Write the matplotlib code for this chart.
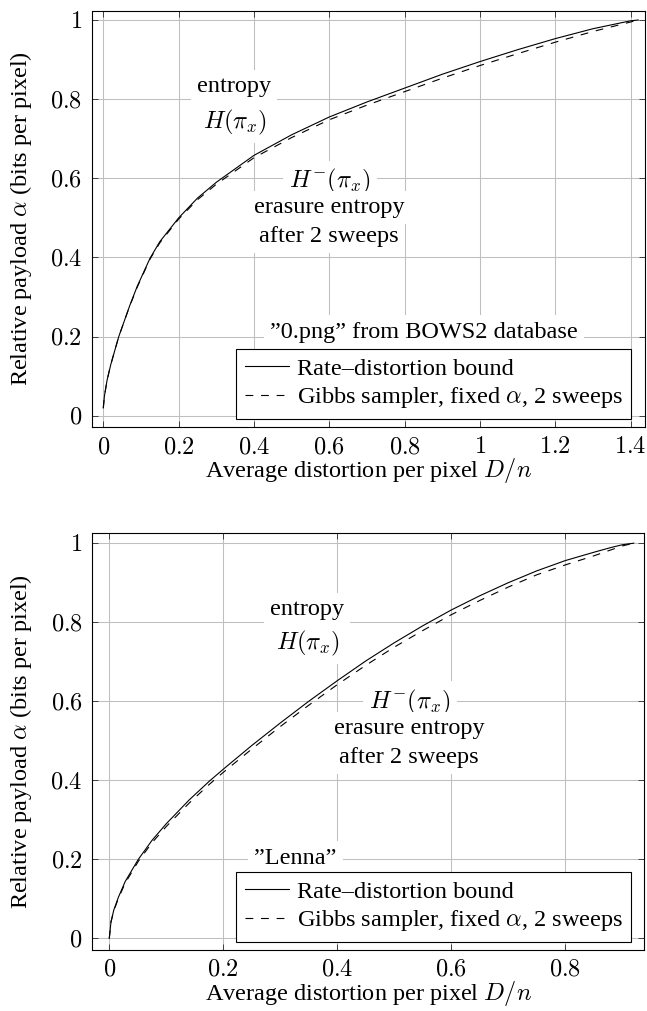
import matplotlib
matplotlib.use('Agg')
import matplotlib.pyplot as plt
from matplotlib.ticker import FixedLocator, FixedFormatter

plt.rcParams['font.family'] = ['Liberation Serif', 'DejaVu Serif']
plt.rcParams['mathtext.fontset'] = 'cm'
plt.rcParams['font.size'] = 17.5
plt.rcParams['lines.scale_dashes'] = False

# ---------------- data ----------------
# Top panel: "0.png" from BOWS2 database
top_rd_x = [0, 0.003, 0.01, 0.02, 0.041, 0.07, 0.09, 0.124, 0.15, 0.2, 0.25, 0.3, 0.4, 0.5,
            0.6, 0.7, 0.8, 0.9, 1.0, 1.1, 1.2, 1.3, 1.4, 1.42]
top_rd_y = [0.02, 0.05, 0.09, 0.13, 0.2, 0.278, 0.327, 0.398, 0.44, 0.5, 0.55, 0.59, 0.658, 0.71,
            0.755, 0.793, 0.828, 0.863, 0.895, 0.925, 0.953, 0.978, 0.998, 1.0]
top_gibbs_x = [0, 0.003, 0.01, 0.02, 0.041, 0.07, 0.09, 0.124, 0.15, 0.2, 0.25, 0.3, 0.4, 0.5,
               0.6, 0.7, 0.8, 0.9, 1.0, 1.1, 1.2, 1.3, 1.4, 1.42]
top_gibbs_y = [0.02, 0.05, 0.09, 0.13, 0.2, 0.277, 0.325, 0.396, 0.437, 0.497, 0.546, 0.585, 0.652, 0.703,
               0.748, 0.785, 0.819, 0.853, 0.885, 0.915, 0.944, 0.971, 0.995, 1.0]

# Bottom panel: "Lenna"
bot_rd_x = [0, 0.003, 0.008, 0.016, 0.028, 0.051, 0.075, 0.1, 0.14, 0.175, 0.2, 0.25, 0.3, 0.35,
            0.4, 0.45, 0.5, 0.55, 0.6, 0.65, 0.7, 0.75, 0.8, 0.85, 0.88, 0.9, 0.92]
bot_rd_y = [0, 0.042, 0.072, 0.104, 0.144, 0.2, 0.248, 0.29, 0.35, 0.397, 0.428, 0.488, 0.545, 0.6,
            0.652, 0.702, 0.748, 0.791, 0.831, 0.867, 0.9, 0.93, 0.956, 0.977, 0.989, 0.996, 1.0]
bot_gibbs_x = [0, 0.003, 0.008, 0.016, 0.028, 0.051, 0.075, 0.1, 0.14, 0.175, 0.2, 0.25, 0.3, 0.35,
               0.4, 0.45, 0.5, 0.55, 0.6, 0.65, 0.7, 0.75, 0.8, 0.85, 0.88, 0.9, 0.92]
bot_gibbs_y = [0, 0.041, 0.07, 0.101, 0.14, 0.195, 0.242, 0.283, 0.342, 0.389, 0.42, 0.479, 0.536, 0.59,
               0.642, 0.691, 0.737, 0.779, 0.819, 0.855, 0.889, 0.92, 0.945, 0.968, 0.983, 0.993, 1.0]

top_xticks = [0, 0.2, 0.4, 0.6, 0.8, 1.0, 1.2, 1.4]
top_xticklabels = ['0', '0.2', '0.4', '0.6', '0.8', '1', '1.2', '1.4']
bot_xticks = [0, 0.2, 0.4, 0.6, 0.8]
bot_xticklabels = ['0', '0.2', '0.4', '0.6', '0.8']
yticks = [0, 0.2, 0.4, 0.6, 0.8, 1.0]
yticklabels = ['0', '0.2', '0.4', '0.6', '0.8', '1']

series_labels = ['Rate–distortion bound', r'Gibbs sampler, fixed $\alpha$, 2 sweeps']
xlabel = r'Average distortion per pixel $D/n$'
ylabel = r'Relative payload $\alpha$ (bits per pixel)'

W, H = 647, 1011
fig = plt.figure(figsize=(W / 100, H / 100), dpi=100)

GRID = '#bfbfbf'
BOX = dict(facecolor='white', edgecolor='none', pad=4.5)
DASH = (5.6, 5.6)


def style_axes(ax, xticks, xticklabels, xlim, ylim):
    ax.set_xlim(*xlim)
    ax.set_ylim(*ylim)
    ax.xaxis.set_major_locator(FixedLocator(xticks))
    ax.xaxis.set_major_formatter(FixedFormatter(['$%s$' % t for t in xticklabels]))
    ax.yaxis.set_major_locator(FixedLocator(yticks))
    ax.yaxis.set_major_formatter(FixedFormatter(['$%s$' % t for t in yticklabels]))
    ax.tick_params(direction='in', length=4.5, width=0.7, color='#404040',
                   top=True, right=True, labelsize=17.5)
    ax.tick_params(axis='x', pad=7)
    ax.tick_params(axis='y', pad=7)
    ax.grid(True, color=GRID, linewidth=0.75)
    ax.set_axisbelow(True)
    for s in ax.spines.values():
        s.set_linewidth(0.8)
        s.set_color('black')
    ax.set_xlabel(xlabel)
    ax.set_ylabel(ylabel)
    ax.yaxis.set_label_coords(-0.105, 0.5)
    ax.xaxis.set_label_coords(0.5, -0.069)


def add_legend(ax, anchor):
    leg = ax.legend(loc='upper left', bbox_to_anchor=anchor, borderaxespad=0,
                    handlelength=1.85, handletextpad=0.3, borderpad=0.35,
                    labelspacing=0.22, fancybox=False, framealpha=1,
                    edgecolor='black', fontsize=17.5)
    leg.get_frame().set_linewidth(0.8)
    return leg


# ---------------- top panel ----------------
ax1 = fig.add_axes([92 / W, 1 - 427.3 / H, 553 / W, 416.6 / H])
ax1.plot(top_rd_x, top_rd_y, color='black', lw=0.8, label=series_labels[0])
ax1.plot(top_gibbs_x, top_gibbs_y, color='black', lw=0.8, dashes=DASH,
         label=series_labels[1])
style_axes(ax1, top_xticks, top_xticklabels, (-0.030, 1.438), (-0.029, 1.0235))
add_legend(ax1, (0.2604, 0.1872))
ax1.text(0.851, 0.211, '”0.png” from BOWS2 database', ha='center', va='center', bbox=BOX)
ax1.text(0.347, 0.832, 'entropy', ha='center', va='center', bbox=BOX)
ax1.text(0.350, 0.742, r'$H(\pi_x)$', ha='center', va='center', bbox=BOX)
ax1.text(0.602, 0.592, r'$H^{-}(\pi_x)$', ha='center', va='center', bbox=BOX)
ax1.text(0.599, 0.526, 'erasure entropy', ha='center', va='center', bbox=BOX)
ax1.text(0.599, 0.454, 'after 2 sweeps', ha='center', va='center', bbox=BOX)

# ---------------- bottom panel ----------------
ax2 = fig.add_axes([92.3 / W, 1 - 950 / H, 551.7 / W, 416.7 / H])
ax2.plot(bot_rd_x, bot_rd_y, color='black', lw=0.8, label=series_labels[0])
ax2.plot(bot_gibbs_x, bot_gibbs_y, color='black', lw=0.8, dashes=DASH,
         label=series_labels[1])
style_axes(ax2, bot_xticks, bot_xticklabels, (-0.0298, 0.938), (-0.0296, 1.025))
add_legend(ax2, ((236 - 92.3) / 551.7, 1 - (872.3 - 533.3) / 416.7))
ax2.text(0.326, 0.2025, '”Lenna”', ha='center', va='center', bbox=BOX)
ax2.text(0.347, 0.832, 'entropy', ha='center', va='center', bbox=BOX)
ax2.text(0.349, 0.747, r'$H(\pi_x)$', ha='center', va='center', bbox=BOX)
ax2.text(0.5275, 0.598, r'$H^{-}(\pi_x)$', ha='center', va='center', bbox=BOX)
ax2.text(0.526, 0.530, 'erasure entropy', ha='center', va='center', bbox=BOX)
ax2.text(0.526, 0.458, 'after 2 sweeps', ha='center', va='center', bbox=BOX)

fig.savefig('out.png', dpi=100)
